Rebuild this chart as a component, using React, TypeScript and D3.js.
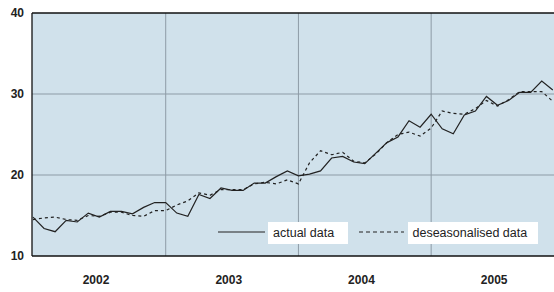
import React from 'react'
import * as d3 from 'd3'

// monthly, Jan 2002 .. Dec 2005
const years = ['2002', '2003', '2004', '2005']
const actual = [
  14.8, 13.4, 13.0, 14.4, 14.2, 15.3, 14.8, 15.5, 15.5, 15.2, 16.0, 16.6,
  16.6, 15.3, 14.9, 17.6, 17.1, 18.4, 18.1, 18.1, 19.0, 19.0, 19.8, 20.5,
  19.9, 20.1, 20.5, 22.1, 22.3, 21.6, 21.4, 22.7, 24.0, 24.7, 26.7, 25.9,
  27.5, 25.7, 25.1, 27.4, 27.9, 29.7, 28.6, 29.2, 30.2, 30.2, 31.6, 30.5,
]
const deseasonalised = [
  14.5, 14.7, 14.8, 14.5, 14.4, 15.0, 14.9, 15.4, 15.4, 15.0, 14.9, 15.6,
  15.6, 16.3, 16.8, 17.8, 17.5, 18.2, 18.2, 18.2, 18.9, 19.1, 18.9, 19.4,
  18.9, 21.5, 23.0, 22.5, 22.8, 21.7, 21.5, 22.6, 24.0, 25.0, 25.3, 24.8,
  25.8, 27.9, 27.6, 27.5, 28.2, 29.2, 28.5, 29.3, 30.3, 30.3, 30.3, 29.1,
]
const yTicks = [10, 20, 30, 40]

const W = 554
const H = 292
const left = 32
const top = 13
const bottom = 256
const font = 'Arial, "Liberation Sans", sans-serif'

export default function App() {
  const x = d3.scaleLinear().domain([0, 47]).range([33, 552.8])
  const y = d3.scaleLinear().domain([10, 40]).range([bottom, top])
  const line = d3.line<number>().x((_, i) => x(i)).y(d => y(d))

  return (
    <svg width={W} height={H} style={{ position: 'absolute', left: 0, top: 0 }}>
      <rect x={left} y={top} width={W - left} height={bottom - top} fill="#d0e1eb" />
      {/* gridlines */}
      {yTicks.filter(t => t > 10 && t < 40).map(t => (
        <line key={t} x1={left} x2={W} y1={y(t)} y2={y(t)} stroke="#8d9ba6" strokeWidth={1} />
      ))}
      {[12, 24, 36].map(m => (
        <line key={m} x1={x(m)} x2={x(m)} y1={top} y2={bottom} stroke="#8d9ba6" strokeWidth={1} />
      ))}
      {/* axes frame */}
      <line x1={left} x2={W} y1={top} y2={top} stroke="#111" strokeWidth={1.3} />
      <line x1={left} x2={W} y1={bottom} y2={bottom} stroke="#111" strokeWidth={1.3} />
      <line x1={left} x2={left} y1={top} y2={bottom} stroke="#111" strokeWidth={1.3} />

      <path d={line(deseasonalised) || ''} fill="none" stroke="#222" strokeWidth={1.2} strokeDasharray="3,3" />
      <path d={line(actual) || ''} fill="none" stroke="#222" strokeWidth={1.2} />

      {yTicks.map(t => (
        <text key={t} x={24} y={y(t) + 4} textAnchor="end" fontFamily={font} fontSize={12} fontWeight="bold" fill="#222">
          {t}
        </text>
      ))}
      {years.map((yr, i) => (
        <text key={yr} x={x(i * 12 + 5.7)} y={284} textAnchor="middle" fontFamily={font} fontSize={12} fontWeight="bold" fill="#222">
          {yr}
        </text>
      ))}

      {/* legend */}
      <line x1={218} x2={265} y1={232} y2={232} stroke="#222" strokeWidth={1.2} />
      <rect x={268} y={222} width={80} height={22} fill="#fff" />
      <text x={273} y={236.5} fontFamily={font} fontSize={12.5} fill="#222">actual data</text>
      <line x1={359} x2={404} y1={232} y2={232} stroke="#222" strokeWidth={1.2} strokeDasharray="4,3" />
      <rect x={408} y={222} width={130} height={22} fill="#fff" />
      <text x={412.5} y={236.5} fontFamily={font} fontSize={12.5} fill="#222">deseasonalised data</text>
    </svg>
  )
}
